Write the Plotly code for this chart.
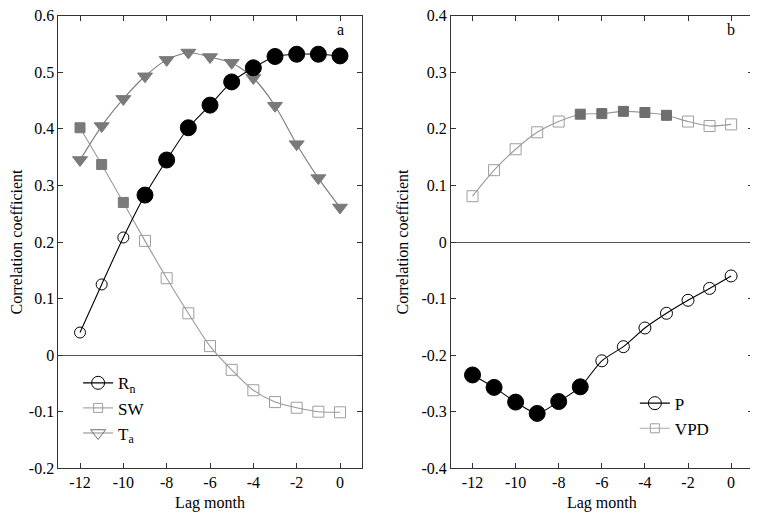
import plotly.graph_objects as go
from plotly.subplots import make_subplots

lag = [-12, -11, -10, -9, -8, -7, -6, -5, -4, -3, -2, -1, 0]

rn = [0.040, 0.125, 0.208, 0.283, 0.345, 0.402, 0.442, 0.483, 0.508, 0.528, 0.532, 0.532, 0.529]
rn_sig = [0, 0, 0, 1, 1, 1, 1, 1, 1, 1, 1, 1, 1]
sw = [0.402, 0.337, 0.270, 0.202, 0.136, 0.074, 0.016, -0.026, -0.062, -0.083, -0.093, -0.100, -0.101]
sw_sig = [1, 1, 1, 0, 0, 0, 0, 0, 0, 0, 0, 0, 0]
ta = [0.345, 0.405, 0.453, 0.493, 0.522, 0.535, 0.527, 0.517, 0.490, 0.441, 0.373, 0.313, 0.261]
ta_sig = [1] * 13

p = [-0.235, -0.257, -0.283, -0.303, -0.282, -0.256, -0.210, -0.185, -0.152, -0.126, -0.103, -0.082, -0.060]
p_sig = [1, 1, 1, 1, 1, 1, 0, 0, 0, 0, 0, 0, 0]
vpd = [0.081, 0.127, 0.164, 0.194, 0.213, 0.226, 0.227, 0.231, 0.229, 0.224, 0.213, 0.205, 0.208]
vpd_sig = [0, 0, 0, 0, 0, 1, 1, 1, 1, 1, 0, 0, 0]

x_ticks = [-12, -10, -8, -6, -4, -2, 0]
x_ticktext = ["-12", "-10", "-8", "-6", "-4", "-2", "0"]
ya_ticks = [-0.2, -0.1, 0, 0.1, 0.2, 0.3, 0.4, 0.5, 0.6]
ya_ticktext = ["-0.2", "-0.1", "0", "0.1", "0.2", "0.3", "0.4", "0.5", "0.6"]
yb_ticks = [-0.4, -0.3, -0.2, -0.1, 0, 0.1, 0.2, 0.3, 0.4]
yb_ticktext = ["-0.4", "-0.3", "-0.2", "-0.1", "0", "0.1", "0.2", "0.3", "0.4"]

FONT = "Times New Roman, Liberation Serif, serif"

fig = make_subplots(rows=1, cols=2)


def series(x, y, sig, sym, fill_col, open_col, fill_size, open_size, line_col, row, col):
    symbols = [sym if s else sym + "-open" for s in sig]
    colors = [fill_col if s else open_col for s in sig]
    sizes = [fill_size if s else open_size for s in sig]
    fig.add_trace(go.Scatter(
        x=x, y=y, mode="lines+markers", showlegend=False,
        line=dict(color=line_col, width=1.1, shape="spline", smoothing=0.7),
        marker=dict(symbol=symbols, color=colors, size=sizes, opacity=1,
                    line=dict(width=1, color=colors)),
    ), row=row, col=col)


series(lag, ta, ta_sig, "triangle-down", "#7a7a7a", "#7a7a7a", 13, 12, "#7a7a7a", 1, 1)
series(lag, sw, sw_sig, "square", "#7a7a7a", "#9e9e9e", 10, 11, "#9a9a9a", 1, 1)
series(lag, rn, rn_sig, "circle", "#000000", "#000000", 16, 11, "#000000", 1, 1)
series(lag, vpd, vpd_sig, "square", "#6e6e6e", "#9e9e9e", 10, 11, "#9a9a9a", 1, 2)
series(lag, p, p_sig, "circle", "#000000", "#000000", 16, 12, "#000000", 1, 2)


def legend_item(name, sym, col, line_col, size, legend):
    fig.add_trace(go.Scatter(
        x=[None], y=[None], mode="lines+markers", name=name, legend=legend,
        line=dict(color=line_col, width=1.2),
        marker=dict(symbol=sym, color=col, size=size, line=dict(width=1, color=col)),
    ))


legend_item("R<sub>n</sub>", "circle-open", "black", "black", 13, "legend")
legend_item("SW", "square-open", "#9e9e9e", "#a8a8a8", 9, "legend")
legend_item("T<sub>a</sub>", "triangle-down-open", "#6e6e6e", "#8a8a8a", 13, "legend")
legend_item("P", "circle-open", "black", "black", 13, "legend2")
legend_item("VPD", "square-open", "#9e9e9e", "#a8a8a8", 9, "legend2")

axis_common = dict(
    showline=True, linecolor="#333", linewidth=1, mirror="ticks",
    ticks="inside", ticklen=5, tickcolor="#333", showgrid=False, automargin=False,
    ticklabeloverflow="allow",
    tickfont=dict(family=FONT, size=16, color="black"),
)

fig.update_xaxes(range=[-13, 1], tickvals=x_ticks, ticktext=x_ticktext, zeroline=False,
                 title=dict(text="Lag month", font=dict(family=FONT, size=16, color="black"), standoff=6),
                 **axis_common)
fig.update_yaxes(zeroline=True, zerolinecolor="#555", zerolinewidth=1.2,
                 title=dict(text="Correlation coefficient", font=dict(family=FONT, size=16, color="black")),
                 **axis_common)
fig.update_yaxes(range=[-0.2, 0.6], tickvals=ya_ticks, ticktext=ya_ticktext,
                 title_standoff=12, row=1, col=1)
fig.update_yaxes(range=[-0.4, 0.4], tickvals=yb_ticks, ticktext=yb_ticktext,
                 title_standoff=8, row=1, col=2)

fig.update_layout(
    width=758, height=517,
    margin=dict(l=0, r=0, t=0, b=0),
    paper_bgcolor="white", plot_bgcolor="white",
    font=dict(family=FONT, size=16, color="black"),
    xaxis=dict(domain=[0.0664, 0.4666]),
    xaxis2=dict(domain=[0.5844, 0.9824]),
    yaxis=dict(domain=[0.1097, 0.985]),
    yaxis2=dict(domain=[0.1097, 0.985]),
    legend=dict(x=0.0925, y=0.309, xanchor="left", yanchor="top", bgcolor="rgba(0,0,0,0)",
                font=dict(family=FONT, size=17, color="black")),
    legend2=dict(x=0.827, y=0.2696, xanchor="left", yanchor="top", bgcolor="rgba(0,0,0,0)",
                 font=dict(family=FONT, size=17, color="black")),
    showlegend=True,
    annotations=[
        dict(text="a", x=0, y=0.575, xref="x", yref="y", showarrow=False,
             font=dict(family=FONT, size=16, color="black")),
        dict(text="b", x=0, y=0.375, xref="x2", yref="y2", showarrow=False,
             font=dict(family=FONT, size=16, color="black")),
    ],
)

fig.write_html("out.html")
